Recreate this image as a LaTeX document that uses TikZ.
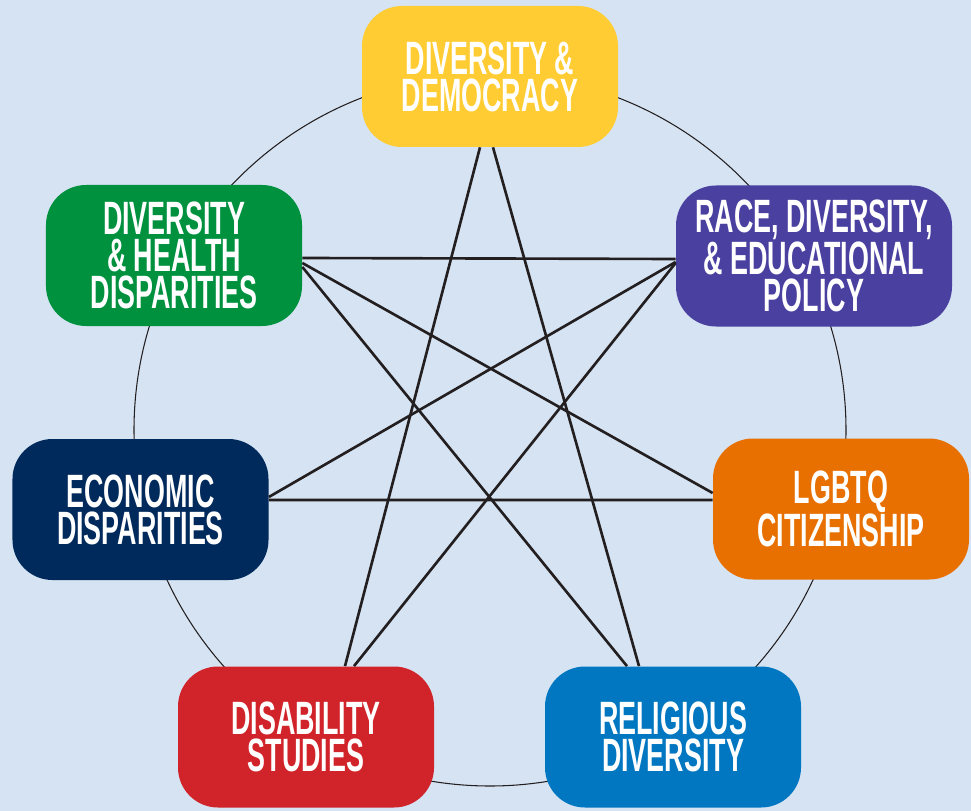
\documentclass[tikz,border=0pt]{standalone}
\usepackage{fontspec}
\newfontfamily\topicfont[FakeStretch=0.575]{Liberation Sans}
\definecolor{bgblue}{HTML}{D5E3F2}
\definecolor{demyellow}{HTML}{FFCC33}
\definecolor{racepurple}{HTML}{4940A0}
\definecolor{lgbtqorange}{HTML}{E87000}
\definecolor{religblue}{HTML}{0077C0}
\definecolor{disabred}{HTML}{D1232A}
\definecolor{econnavy}{HTML}{002A5C}
\definecolor{healthgreen}{HTML}{00913F}
\definecolor{starline}{HTML}{231F20}
\begin{document}
\begin{tikzpicture}[scale=0.2,
	topic/.style={rounded corners=0.8cm, minimum width=5.12cm, minimum height=2.82cm,
		inner sep=0pt, text=white, align=center,
		font=\topicfont\bfseries\fontsize{26.6}{21}\selectfont},
	link/.style={draw=starline, line width=1.5pt}]
	\fill [bgblue] (0,0) rectangle (97.1,-81.1);
	\draw [starline, line width=0.6pt] (49,-43) circle (35.6);
	\node [topic, fill=demyellow] (dem) at (49,-7.65) {DIVERSITY \&\\DEMOCRACY};
	\node [topic, fill=racepurple, minimum width=5.52cm] (race) at (81.4,-25.6) {RACE, DIVERSITY,\\\& EDUCATIONAL\\POLICY};
	\node [topic, fill=lgbtqorange] (lgbtq) at (84.1,-50.9) {LGBTQ\\CITIZENSHIP};
	\node [topic, fill=religblue] (relig) at (67.3,-73.7) {RELIGIOUS\\DIVERSITY};
	\node [topic, fill=disabred] (disab) at (30.6,-73.7) {DISABILITY\\STUDIES};
	\node [topic, fill=econnavy] (econ) at (14.05,-50.95) {ECONOMIC\\DISPARITIES};
	\node [topic, fill=healthgreen] (health) at (17.4,-25.55) {DIVERSITY\\\& HEALTH\\DISPARITIES};
	% star
	\draw [link] ([yshift=-0.25cm]health.east) -- ([yshift=-0.3cm]race.west);
	\draw [link] ([yshift=-0.75cm]health.east) -- ([yshift=1.6cm]lgbtq.west);
	\draw [link] ([yshift=-1.15cm]health.east) -- ([xshift=-4.6cm]relig.north);
	\draw [link] ([yshift=1.25cm]econ.east) -- ([yshift=-0.6cm]race.west);
	\draw [link] ([yshift=0.95cm]econ.east) -- ([yshift=0.9cm]lgbtq.west);
	\draw [link] ([yshift=-0.7cm]race.west) -- ([xshift=4.8cm]disab.north);
	\draw [link] ([xshift=-1.0cm]dem.south) -- ([xshift=3.9cm]disab.north);
	\draw [link] ([xshift=0.3cm]dem.south) -- ([xshift=-3.4cm]relig.north);
\end{tikzpicture}
\end{document}
